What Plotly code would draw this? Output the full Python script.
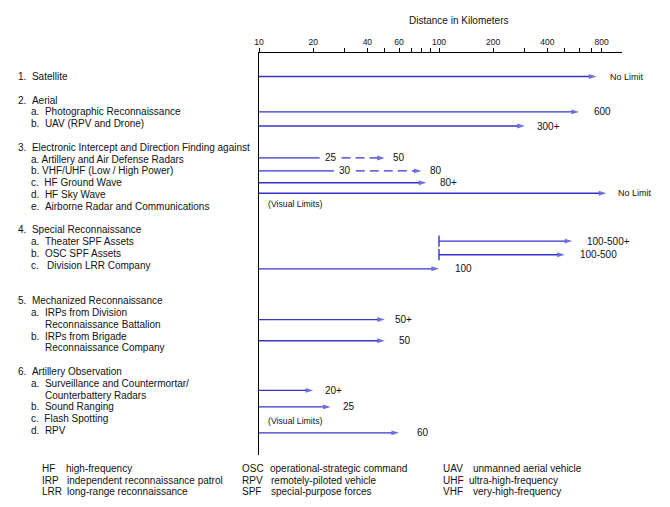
import numpy as np
import plotly.graph_objects as go

# ---------------- data ----------------
tick_values = [10, 20, 30, 40, 50, 60, 70, 80, 90, 100, 200, 300, 400, 500, 600, 700, 800]
tick_labels = ["10", "20", "", "40", "", "60", "", "", "", "100", "200", "", "400", "", "", "", "800"]

left_text = [
    "1.  Satellite",
    "2.  Aerial",
    "a.  Photographic Reconnaissance",
    "b.  UAV (RPV and Drone)",
    "3.  Electronic Intercept and Direction Finding against",
    "a. Artillery and Air Defense Radars",
    "b. VHF/UHF (Low / High Power)",
    "c.  HF Ground Wave",
    "d.  HF Sky Wave",
    "e.  Airborne Radar and Communications",
    "4.  Special Reconnaissance",
    "a.  Theater SPF Assets",
    "b.  OSC SPF Assets",
    "c.   Division LRR Company",
    "5.  Mechanized Reconnaissance",
    "a.  IRPs from Division",
    "Reconnaissance Battalion",
    "b.  IRPs from Brigade",
    "Reconnaissance Company",
    "6.  Artillery Observation",
    "a.  Surveillance and Countermortar/",
    "Counterbattery Radars",
    "b.  Sound Ranging",
    "c.  Flash Spotting",
    "d.  RPV",
]

row_names = [
    "Satellite", "Photographic Reconnaissance", "UAV (RPV and Drone)",
    "Artillery and Air Defense Radars", "VHF/UHF (Low / High Power)",
    "HF Ground Wave", "HF Sky Wave", "Theater SPF Assets", "OSC SPF Assets",
    "Division LRR Company", "IRPs from Division Reconnaissance Battalion",
    "IRPs from Brigade Reconnaissance Company",
    "Surveillance and Countermortar/Counterbattery Radars", "Sound Ranging", "RPV",
]
range_start = [10, 10, 10, 10, 10, 10, 10, 100, 100, 10, 10, 10, 10, 10, 10]
range_low = [None, None, None, 25, 30, None, None, None, None, None, None, None, None, None, None]
range_end = [750, 600, 300, 50, 80, 85, 850, 550, 500, 100, 50, 50, 20, 25, 60]
range_text = ["No Limit", "600", "300+", "50", "80", "80+", "No Limit", "100-500+",
              "100-500", "100", "50+", "50", "20+", "25", "60"]

abbr = ["HF", "IRP", "LRR", "OSC", "RPV", "SPF", "UAV", "UHF", "VHF"]
abbr_def = ["high-frequency", "independent reconnaissance patrol", "long-range reconnaissance",
            "operational-strategic command", "remotely-piloted vehicle", "special-purpose forces",
            "unmanned aerial vehicle", "ultra-high-frequency", "very-high-frequency"]

# ---------------- layout helpers (positions / styles) ----------------
OFF = 8                                        # page body margin of the browser
W, H = 670 - OFF, 507 - OFF
PL, PR, PT, PB = 259 - OFF, 622 - OFF, 53 - OFF, 455 - OFF   # plot area in px
Y0, PITCH = 76.5 - OFF, 11.8                  # text-line grid
y_top = (PT - Y0) / PITCH
y_bot = (PB - Y0) / PITCH
x_range = [1, 1 + (PR - PL) / 180.0]

left_indent = [0, 0, 1, 1, 0, 1, 1, 1, 1, 1, 0, 1, 1, 1, 0, 1, 2, 1, 2, 0, 1, 2, 1, 1, 1]
left_line = [0, 2, 3, 4, 6, 7, 8, 9, 10, 11, 13, 14, 15, 16, 19, 20, 21, 22, 23, 25, 26, 27, 28, 29, 30]
indent_px = [18 - OFF, 31 - OFF, 45 - OFF]

row_y = [0, 3, 4.2, 6.9, 8.0, 9.0, 9.9, 13.95, 15.1, 16.3, 20.6, 22.4, 26.6, 28.0, 30.2]
label_gap = [11, 13, 10, 6, 6, 12, 10, 13, 13, 14, 8, 12, 10, 10, 16]

BLUE = "#3434cc"
FONT = "Liberation Sans, Arial, sans-serif"
TXT = "#111111"

fig = go.Figure()

for i in range(len(row_names)):
    y = row_y[i]
    lo = range_low[i]
    if lo is None:
        xs = [range_start[i], range_end[i]]
        fig.add_trace(go.Scatter(
            x=xs, y=[y, y], mode="lines+markers",
            line=dict(color=BLUE, width=1.4),
            marker=dict(symbol="arrow", size=[0, 8], angleref="previous", color=BLUE,
                        line=dict(width=0)),
            hoverinfo="skip", showlegend=False))
    else:
        fig.add_trace(go.Scatter(
            x=[range_start[i], lo / 1.15], y=[y, y], mode="lines",
            line=dict(color=BLUE, width=1.4), hoverinfo="skip", showlegend=False))
        fig.add_trace(go.Scatter(
            x=[lo * 1.15, range_end[i]], y=[y, y], mode="lines+markers",
            line=dict(color=BLUE, width=1.4, dash="9px,5px"),
            marker=dict(symbol="arrow", size=[0, 8], angleref="previous", color=BLUE,
                        line=dict(width=0)),
            hoverinfo="skip", showlegend=False))
        fig.add_annotation(x=np.log10(lo), y=y, xref="x", yref="y", text=str(lo),
                           showarrow=False, xanchor="center", yanchor="middle",
                           font=dict(family=FONT, size=10, color=TXT))
    if range_start[i] > 10:
        fig.add_trace(go.Scatter(
            x=[range_start[i]], y=[y], mode="markers",
            marker=dict(symbol="line-ns", size=8, line=dict(color=BLUE, width=1.4)),
            hoverinfo="skip", showlegend=False))
    fs = 9 if range_text[i] == "No Limit" else 10
    fig.add_annotation(x=np.log10(range_end[i]), y=y, xref="x", yref="y", text=range_text[i],
                       showarrow=False, xanchor="left", yanchor="middle",
                       xshift=label_gap[i], font=dict(family=FONT, size=fs, color=TXT))

# left labels
for t, ind, ln in zip(left_text, left_indent, left_line):
    fig.add_annotation(x=0, y=ln, xref="paper", yref="y", text=t.replace("  ", "\u00a0\u00a0"),
                       showarrow=False, xanchor="left", yanchor="middle",
                       xshift=indent_px[ind] - PL - 2,
                       font=dict(family=FONT, size=10, color=TXT))

# visual limits notes
for ln in [10.83, 29.2]:
    fig.add_annotation(x=0, y=ln, xref="paper", yref="y", text="(Visual Limits)",
                       showarrow=False, xanchor="left", yanchor="middle", xshift=7,
                       font=dict(family=FONT, size=8.7, color=TXT))

# axis title
fig.add_annotation(x=(458 - OFF - PL) / (PR - PL), y=1 + (PT - (20 - OFF)) / (PB - PT),
                   xref="paper", yref="paper",
                   text="Distance in Kilometers", showarrow=False, xanchor="center", yanchor="middle",
                   font=dict(family=FONT, size=10, color=TXT))

# abbreviation key
abbr_x = [42, 42, 42, 242, 242, 242, 443, 443, 443]
def_x = [66, 67, 67, 270, 271, 271, 473, 469, 473]
key_y = [468.3, 480, 491.7] * 3
for a, d, ax, dx, ky in zip(abbr, abbr_def, abbr_x, def_x, key_y):
    py = (PB - (ky - OFF)) / (PB - PT)
    fig.add_annotation(x=0, y=py, xref="paper", yref="paper", text=a, showarrow=False,
                       xanchor="left", yanchor="middle", xshift=ax - OFF - PL - 2,
                       font=dict(family=FONT, size=10, color=TXT))
    fig.add_annotation(x=0, y=py, xref="paper", yref="paper", text=d, showarrow=False,
                       xanchor="left", yanchor="middle", xshift=dx - OFF - PL - 2,
                       font=dict(family=FONT, size=10, color=TXT))

fig.update_layout(
    width=W, height=H,
    margin=dict(l=PL, r=W - PR, t=PT, b=H - PB, pad=0),
    paper_bgcolor="white", plot_bgcolor="white",
    showlegend=False,
    xaxis=dict(type="log", range=x_range, side="top", showline=True, linecolor="black",
               linewidth=1, ticks="outside", ticklen=4, tickwidth=1, tickcolor="black",
               tickvals=tick_values, ticktext=tick_labels, showgrid=False, zeroline=False,
               tickfont=dict(family=FONT, size=8.5, color=TXT), fixedrange=True),
    yaxis=dict(range=[y_bot, y_top], showline=True, linecolor="black", linewidth=1,
               showticklabels=False, ticks="", showgrid=False, zeroline=False, fixedrange=True),
)

fig.write_html("out.html")
